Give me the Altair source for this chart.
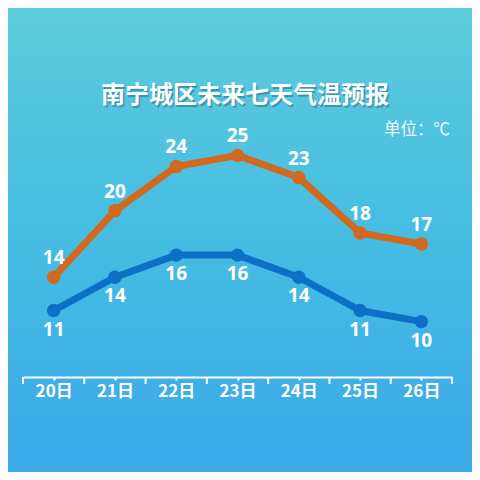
import altair as alt
import pandas as pd

days = ["20日", "21日", "22日", "23日", "24日", "25日", "26日"]
high = [14, 20, 24, 25, 23, 18, 17]
low = [11, 14, 16, 16, 14, 11, 10]
title_text = "南宁城区未来七天气温预报"
unit_text = "单位：℃"
boundaries = [i - 0.5 for i in range(len(days) + 1)]

idx = list(range(len(days)))
df_high = pd.DataFrame({"i": idx, "day": days, "t": high, "s": "high"})
df_low = pd.DataFrame({"i": idx, "day": days, "t": low, "s": "low"})
df = pd.concat([df_high, df_low], ignore_index=True)

ORANGE = "#d2691e"
ORANGE_PT = "#d86b22"
BLUE = "#0d6fc6"
BLUE_PT = "#3a6cc0"

W, H = 429, 277
PL, PT, PR, PB = 15, 92, 20, 95

labels_js = "[" + ",".join("'" + d + "'" for d in days) + "]"
label_expr = labels_js + "[datum.value]"

xscale = alt.Scale(domain=[-0.5, 6.5], nice=False, zero=False)
yscale = alt.Scale(domain=[5, 30], nice=False, zero=False)

x_axis = alt.Axis(
    values=idx,
    labelExpr=label_expr,
    title=None, grid=False, zindex=1,
    domainColor="white", domainWidth=2,
    tickColor="white", tickWidth=2, tickSize=3,
    labelColor="white", labelFontSize=17, labelFontWeight="bold",
    labelFont="Noto Sans CJK SC", labelPadding=3,
    labelOverlap=False, labelBound=False, labelFlush=False,
)

bg = alt.Chart(pd.DataFrame({"a": [0]})).mark_rect(
    color=alt.LinearGradient(
        gradient="linear",
        stops=[alt.GradientStop(color="#5dcbdb", offset=0),
               alt.GradientStop(color="#47bee2", offset=0.45),
               alt.GradientStop(color="#3aa9e9", offset=1)],
        x1=0, x2=0, y1=0, y2=1,
    )
).encode(
    x=alt.value(-PL), x2=alt.value(W + PR),
    y=alt.value(-PT), y2=alt.value(H + PB),
)

base = alt.Chart(df).encode(
    x=alt.X("i:Q", scale=xscale, axis=x_axis),
    y=alt.Y("t:Q", scale=yscale, axis=None),
)

lines = base.mark_line(strokeWidth=7, strokeJoin="round", strokeCap="round").encode(
    color=alt.Color("s:N", scale=alt.Scale(domain=["high", "low"], range=[ORANGE, BLUE]), legend=None),
    detail="s:N",
)

points = base.mark_circle(size=180, opacity=1).encode(
    color=alt.Color("s:N", scale=alt.Scale(domain=["high", "low"], range=[ORANGE_PT, BLUE_PT]), legend=None),
)

btick = alt.Chart(pd.DataFrame({"b": boundaries})).mark_rule(
    color="white", strokeWidth=2
).encode(x=alt.X("b:Q", scale=xscale), y=alt.value(H), y2=alt.value(H + 7))

lab_high = alt.Chart(df_high).mark_text(
    dy=-19, color="white", fontSize=19, fontWeight="bold", font="Open Sans"
).encode(x=alt.X("i:Q", scale=xscale), y=alt.Y("t:Q", scale=yscale), text="t:Q")

lab_low = alt.Chart(df_low).mark_text(
    dy=19, color="white", fontSize=19, fontWeight="bold", font="Open Sans"
).encode(x=alt.X("i:Q", scale=xscale), y=alt.Y("t:Q", scale=yscale), text="t:Q")

tdf = pd.DataFrame({"u": [title_text]})
title_shadow = alt.Chart(tdf).mark_text(
    align="center", baseline="middle", color="#1a5a7a", opacity=0.45,
    fontSize=24, fontWeight="bold", font="Noto Sans CJK SC",
).encode(x=alt.value(223.5), y=alt.value(-2.5), text="u:N")
title = alt.Chart(tdf).mark_text(
    align="center", baseline="middle", color="white",
    fontSize=24, fontWeight="bold", font="Noto Sans CJK SC",
).encode(x=alt.value(222), y=alt.value(-4), text="u:N")

unit = alt.Chart(pd.DataFrame({"u": [unit_text]})).mark_text(
    align="right", baseline="middle", color="white", opacity=0.9,
    fontSize=16.5, font="Noto Sans CJK SC",
).encode(x=alt.value(427), y=alt.value(30), text="u:N")

chart = alt.layer(bg, btick, lines, points, lab_high, lab_low, title_shadow, title, unit).properties(
    width=W, height=H,
    autosize=alt.AutoSizeParams(type="none"),
    padding={"left": PL, "top": PT, "right": PR, "bottom": PB},
    background="#47bee2",
).configure_view(stroke=None)

chart.save("out.html", embed_options={"renderer": "svg", "actions": False})
